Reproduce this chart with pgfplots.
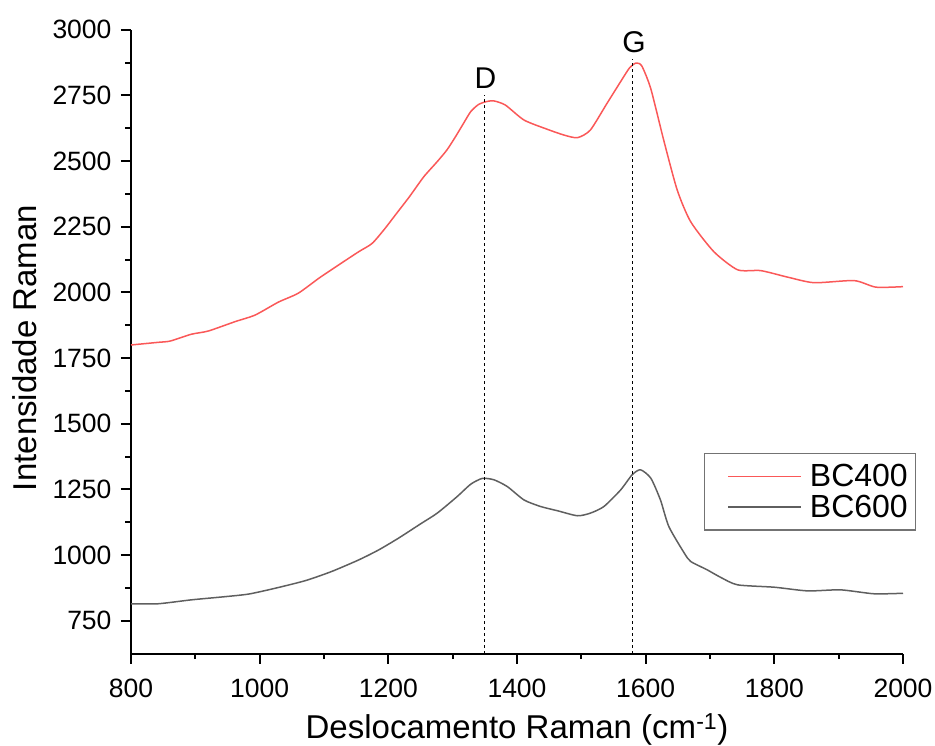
\documentclass[border=0pt]{standalone}
\usepackage{pgfplots}
\pgfplotsset{compat=1.18}
\usepackage{fontspec}
\setmainfont{Liberation Sans}
\definecolor{redA}{RGB}{250,88,88}
\definecolor{grayA}{RGB}{95,95,95}
\begin{document}
\begin{tikzpicture}
\begin{axis}[
  at={(0,0)}, anchor=south west,
  scale only axis, width=772pt, height=624pt,
  xmin=800, xmax=2000, ymin=625, ymax=3000,
  axis lines=left, axis line style={-, line width=2pt},
  xtick={800,1000,...,2000}, ytick={750,1000,...,3000},
  minor x tick num=1, minor y tick num=1,
  tick align=outside, major tick length=10pt, minor tick length=5.5pt,
  tick style={line width=2pt, black},
  /pgf/number format/assume math mode=true,
  /pgf/number format/1000 sep={},
  ticklabel style={font=\fontsize{26.5}{30}\selectfont},
  yticklabel style={xshift=-6pt},
  xticklabel style={yshift=-12pt},
  xlabel={Deslocamento Raman (cm\textsuperscript{-1})},
  ylabel={Intensidade Raman},
  label style={font=\fontsize{33}{38}\selectfont},
  xlabel style={at={(axis description cs:0.5,0)}, anchor=base, yshift=-85pt},
  ylabel style={at={(axis description cs:0,0.49)}, anchor=center, yshift=106pt},
  legend style={at={(0.742,0.322)}, anchor=north west, draw=gray!90!black, line width=1.2pt,
    font=\fontsize{32}{35}\selectfont, inner xsep=6pt, inner ysep=9pt, row sep=3pt},
  legend cell align=left,
  legend image code/.code={\draw[#1, line width=1.5pt, shorten <=17pt, shorten >=6pt] (0pt,0pt) -- (96pt,0pt);},
  clip=false,
]
\addplot[redA, line width=1.5pt, smooth, tension=0.4] coordinates {
(800,1800) (842,1810) (861,1815) (894,1841) (920,1853) (962,1889) (993,1914)
(1029,1963) (1060,1997) (1092,2054) (1123,2105) (1154,2155) (1175,2187)
(1195,2244) (1211,2295) (1233,2365) (1255,2440) (1275,2495) (1291,2542) (1305,2595) (1317,2644)
(1328,2688) (1340,2715) (1352,2726) (1364,2729) (1382,2713) (1411,2656) (1447,2621)
(1473,2599) (1494,2589) (1514,2618) (1540,2720) (1561,2802) (1575,2855) (1585,2873)
(1594,2862) (1608,2775) (1628,2580) (1649,2390) (1670,2269) (1706,2155)
(1743,2086) (1779,2083) (1821,2058) (1862,2037) (1924,2045) (1958,2020)
(2000,2022)};
\addlegendentry{BC400}
\addplot[grayA, line width=1.5pt, smooth, tension=0.4] coordinates {
(800,815) (842,815) (894,830) (946,842) (983,852) (1024,874) (1071,903)
(1112,938) (1154,982) (1185,1020) (1216,1065) (1250,1119) (1276,1160)
(1307,1223) (1328,1270) (1346,1292) (1364,1287) (1385,1261) (1411,1210)
(1437,1185) (1463,1169) (1494,1150) (1514,1160) (1535,1185) (1561,1248)
(1579,1306) (1592,1325) (1608,1293) (1623,1210) (1636,1109) (1660,1008)
(1670,976) (1695,945) (1717,915) (1743,887) (1800,878) (1852,864)
(1903,868) (1955,853) (2000,855)};
\addlegendentry{BC600}
\addplot[black, line width=1pt, dash pattern=on 3pt off 3pt, forget plot] coordinates {(1350,625) (1350,2750)};
\addplot[black, line width=1pt, dash pattern=on 3pt off 3pt, forget plot] coordinates {(1580,625) (1580,2890)};
\node[font=\fontsize{30}{34}\selectfont] at (axis cs:1351,2817) {D};
\node[font=\fontsize{30}{34}\selectfont] at (axis cs:1582,2953) {G};
\end{axis}
\pgfresetboundingbox
\path[use as bounding box] (-131pt,-92.3pt) rectangle (804pt,653.7pt);
\end{tikzpicture}
\end{document}
